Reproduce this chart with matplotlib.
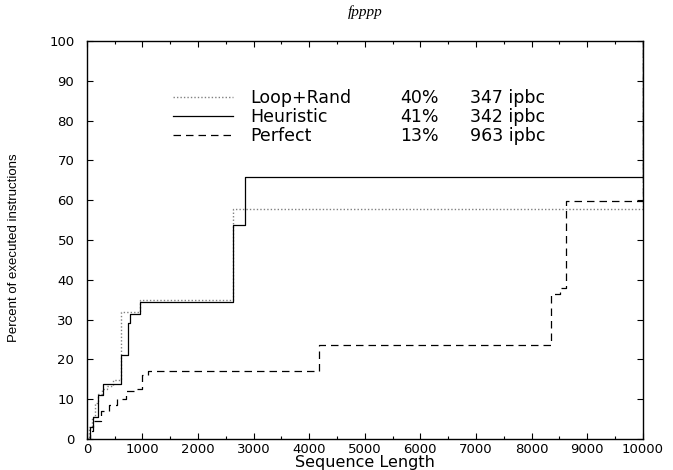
import matplotlib
matplotlib.use("Agg")
import matplotlib.pyplot as plt
from matplotlib.ticker import MultipleLocator

# cumulative coverage curves (step functions, value holds until next breakpoint)
loop_x = [0, 40, 90, 150, 200, 280, 360, 470, 615, 950, 2630, 10000, 10000]
loop_y = [0, 3, 5.5, 9, 11.3, 12.5, 13.3, 14.8, 32, 35, 57.7, 57.7, 100]

heur_x = [0, 50, 110, 200, 300, 620, 740, 780, 960, 2630, 2850, 10000, 10000]
heur_y = [0, 3, 5.5, 11, 13.8, 21, 29.2, 31.5, 34.5, 53.7, 65.8, 65.8, 100]

perf_x = [0, 60, 120, 250, 400, 550, 700, 900, 1000, 1100, 4170, 8350, 8520, 8620, 10000, 10000]
perf_y = [0, 2, 4.5, 7, 8.5, 10, 12, 12.5, 16, 17.1, 23.5, 36.5, 38, 59.8, 60.3, 100]

names = ["Loop+Rand", "Heuristic", "Perfect"]
pcts = ["40%", "41%", "13%"]
ipbc = ["347 ipbc", "342 ipbc", "963 ipbc"]

fig = plt.figure(figsize=(6.73, 4.70), dpi=100)
ax = fig.add_axes([0.129, 0.066, 0.826, 0.847])

l1, = ax.plot(loop_x, loop_y, drawstyle="steps-post", color="#808080",
              lw=1.0, linestyle=(0, (1, 1.5)))
l2, = ax.plot(heur_x, heur_y, drawstyle="steps-post", color="black", lw=0.9)
l3, = ax.plot(perf_x, perf_y, drawstyle="steps-post", color="black", lw=0.9,
              linestyle=(0, (6, 4)))

ax.set_xlim(0, 10000)
ax.set_ylim(0, 100)
ax.xaxis.set_major_locator(MultipleLocator(1000))
ax.xaxis.set_minor_locator(MultipleLocator(500))
ax.yaxis.set_major_locator(MultipleLocator(10))
ax.tick_params(which="both", direction="in", top=True, right=True,
               labelsize=9.5, width=0.8)
ax.tick_params(which="major", length=4)
ax.tick_params(which="minor", length=2.5)
ax.tick_params(axis="y", pad=9)
ax.tick_params(axis="x", pad=3)
for s in ax.spines.values():
    s.set_linewidth(1.0)

ax.set_xlabel("Sequence Length", fontsize=11.5, labelpad=-1)
ax.set_ylabel("Percent of executed instructions", fontsize=9.5,
              family="Liberation Sans")
ax.yaxis.set_label_coords(-0.12, 0.48)
ax.set_title("fpppp", fontsize=11, family="Liberation Serif", style="italic", pad=18)

leg = ax.legend([l1, l2, l3], names, loc="upper left",
                bbox_to_anchor=(0.155, 0.88), frameon=False, fontsize=12.5,
                handlelength=3.45, handletextpad=1.0, labelspacing=0.08,
                borderpad=0.0, borderaxespad=0.0)

# stat columns next to each legend entry
fig.canvas.draw()
inv = ax.transAxes.inverted()
for txt, p, r in zip(leg.get_texts(), pcts, ipbc):
    bb = txt.get_window_extent()
    yc = inv.transform((0, (bb.y0 + bb.y1) / 2))[1]
    ax.text(0.563, yc, p, transform=ax.transAxes, fontsize=12.5, va="center")
    ax.text(0.689, yc, r, transform=ax.transAxes, fontsize=12.5, va="center")

fig.savefig("out.png", dpi=100)
